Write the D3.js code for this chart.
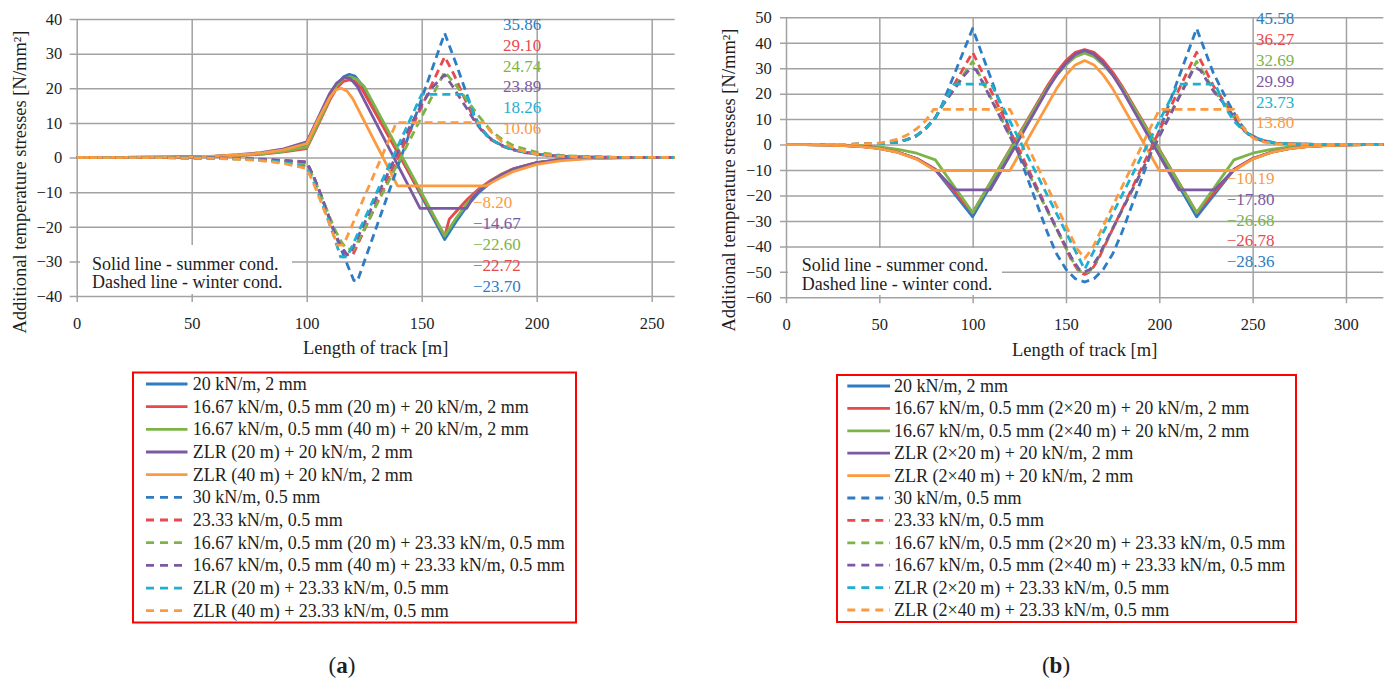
<!DOCTYPE html>
<html><head><meta charset="utf-8">
<script src="https://cdn.jsdelivr.net/npm/d3@7"></script>
<style>body{margin:0;background:#fff}</style>
</head><body>
<svg id="c" width="1390" height="682"></svg>
<script>
// ---------------- DATA ----------------
const xTicksA = [0, 50, 100, 150, 200, 250];
const yTicksA = [-40, -30, -20, -10, 0, 10, 20, 30, 40];
const xTicksB = [0, 50, 100, 150, 200, 250, 300];
const yTicksB = [-60, -50, -40, -30, -20, -10, 0, 10, 20, 30, 40, 50];

const legendA = [
  "20 kN/m, 2 mm",
  "16.67 kN/m, 0.5 mm (20 m) + 20 kN/m, 2 mm",
  "16.67 kN/m, 0.5 mm (40 m) + 20 kN/m, 2 mm",
  "ZLR (20 m) + 20 kN/m, 2 mm",
  "ZLR (40 m) + 20 kN/m, 2 mm",
  "30 kN/m, 0.5 mm",
  "23.33 kN/m, 0.5 mm",
  "16.67 kN/m, 0.5 mm (20 m) + 23.33 kN/m, 0.5 mm",
  "16.67 kN/m, 0.5 mm (40 m) + 23.33 kN/m, 0.5 mm",
  "ZLR (20 m) + 23.33 kN/m, 0.5 mm",
  "ZLR (40 m) + 23.33 kN/m, 0.5 mm"
];
const legendB = [
  "20 kN/m, 2 mm",
  "16.67 kN/m, 0.5 mm (2×20 m) + 20 kN/m, 2 mm",
  "16.67 kN/m, 0.5 mm (2×40 m) + 20 kN/m, 2 mm",
  "ZLR (2×20 m) + 20 kN/m, 2 mm",
  "ZLR (2×40 m) + 20 kN/m, 2 mm",
  "30 kN/m, 0.5 mm",
  "23.33 kN/m, 0.5 mm",
  "16.67 kN/m, 0.5 mm (2×20 m) + 23.33 kN/m, 0.5 mm",
  "16.67 kN/m, 0.5 mm (2×40 m) + 23.33 kN/m, 0.5 mm",
  "ZLR (2×20 m) + 23.33 kN/m, 0.5 mm",
  "ZLR (2×40 m) + 23.33 kN/m, 0.5 mm"
];
const seriesColor = ["blue","red","green","purple","orange","blue","red","green","purple","cyan","orange"];
const seriesDashed = [false,false,false,false,false,true,true,true,true,true,true];

// ---- chart (a) series: [length m, stress N/mm2]
const a1 = [[0,0],[20,0.02],[40,0.1],[50,0.18],[60,0.35],[70,0.65],[80,1.1],[90,1.9],[100,3.3],[105,10.5],[110,17.5],[113,21],[116,23.3],[118.5,24.0],[121,23.5],[124,21],[160,-23.7],[165,-18.5],[170,-13.8],[175,-10],[180,-7.2],[185,-5.0],[190,-3.4],[200,-1.6],[210,-0.7],[220,-0.3],[230,-0.1],[245,0],[260,0]];
const a2 = [[0,0],[20,0.02],[40,0.08],[50,0.15],[60,0.3],[70,0.55],[80,0.9],[90,1.6],[100,2.6],[105,9.5],[110,16.5],[113,20],[116,22],[118.5,22.4],[121,22],[124,19.8],[160,-22.72],[162,-17.8],[165,-15.6],[170,-12],[175,-9.0],[180,-6.6],[185,-4.7],[190,-3.2],[200,-1.5],[210,-0.6],[220,-0.25],[235,-0.05],[260,0]];
const a3 = [[0,0],[20,0.02],[40,0.09],[50,0.16],[60,0.32],[70,0.6],[80,1.0],[90,1.75],[100,3.0],[105,10],[110,17],[113,20.8],[116,22.8],[119,23.3],[122,22.5],[125,20.5],[160,-22.6],[165,-17.5],[170,-13.0],[175,-9.4],[180,-6.9],[185,-4.8],[190,-3.3],[200,-1.5],[210,-0.65],[220,-0.28],[235,-0.06],[260,0]];
const a4 = [[0,0],[20,0.03],[40,0.12],[50,0.22],[60,0.42],[70,0.8],[80,1.4],[90,2.5],[100,4.5],[105,11.5],[110,18.5],[113,21.5],[116.5,23.2],[119,22.8],[122,20.5],[149.3,-14.67],[169.6,-14.67],[172,-11.8],[175,-9.6],[180,-7.0],[185,-4.9],[190,-3.3],[200,-1.5],[210,-0.65],[220,-0.28],[235,-0.06],[260,0]];
const a5 = [[0,0],[20,0.03],[40,0.11],[50,0.2],[60,0.4],[70,0.72],[80,1.25],[90,2.2],[100,4.0],[105,11],[110,17.3],[112.5,19.5],[115,20.0],[117.5,19.2],[120,17],[139.5,-8.2],[178,-8.2],[180,-7.4],[185,-5.6],[190,-4.0],[200,-2.0],[210,-1.0],[220,-0.45],[230,-0.2],[245,-0.05],[260,0]];
const a6 = [[0,0],[30,-0.02],[50,-0.08],[60,-0.15],[70,-0.3],[80,-0.55],[90,-0.95],[100,-1.4],[103,-5.5],[106,-10.5],[109,-16],[112,-21.5],[115,-26.5],[118,-31.5],[120.5,-35.5],[122,-35.8],[160,35.86],[165,27],[170,17.5],[173,12],[176,8.2],[180,5.3],[185,3.4],[190,2.2],[200,0.95],[210,0.4],[220,0.15],[235,0.03],[260,0]];
const a7 = [[0,0],[30,-0.02],[50,-0.08],[60,-0.15],[70,-0.3],[80,-0.55],[90,-0.95],[100,-1.4],[103,-5.5],[106,-10.5],[109,-16],[112,-21.5],[115,-25.8],[117.5,-28.0],[120,-28.2],[160,29.10],[164,24],[168,18],[172,12.3],[176,8.0],[180,5.2],[185,3.3],[190,2.1],[200,0.9],[210,0.38],[220,0.15],[235,0.03],[260,0]];
const a8 = [[0,0],[30,-0.03],[50,-0.1],[60,-0.2],[70,-0.4],[80,-0.75],[90,-1.3],[100,-2.3],[103,-5.8],[106,-10.5],[109,-15.5],[112,-20.5],[115,-24.3],[117.5,-26.5],[120.5,-26.5],[160,24.74],[165,20.8],[170,16.3],[175,11.8],[180,7.8],[185,5.2],[190,3.4],[200,1.5],[210,0.65],[220,0.27],[235,0.06],[260,0]];
const a9 = [[0,0],[30,-0.02],[50,-0.07],[60,-0.13],[70,-0.25],[80,-0.45],[90,-0.8],[97,-1.1],[100,-1.3],[103,-5.5],[106,-10.5],[109,-16],[112,-21.5],[115,-25.8],[117.5,-28.2],[119,-27.6],[138.5,0],[145,9.2],[150,15.3],[155,20.5],[160,23.89],[163,21],[167,16.8],[170,13.8],[173,10.5],[177,7.0],[182,4.5],[187,2.9],[195,1.4],[205,0.6],[215,0.25],[230,0.05],[260,0]];
const a10 = [[0,0],[30,-0.03],[50,-0.1],[60,-0.2],[70,-0.4],[80,-0.75],[90,-1.4],[100,-2.7],[103,-7],[106,-12],[109,-17.5],[112,-23],[114.7,-28.7],[117.6,-28.7],[150,18.26],[169.5,18.26],[172.5,12.5],[176,8],[180,5.3],[185,3.4],[190,2.2],[200,1.0],[210,0.45],[220,0.2],[235,0.05],[260,0]];
const a11 = [[0,0],[30,-0.03],[50,-0.12],[60,-0.25],[70,-0.5],[80,-0.9],[90,-1.7],[100,-3.2],[103,-7.5],[106,-12.5],[109,-17.5],[111.5,-22],[113.3,-25.3],[116,-25.3],[139,10.06],[177,10.06],[180,7.5],[185,4.5],[190,2.7],[195,1.7],[200,1.05],[210,0.42],[220,0.16],[235,0.03],[260,0]];

// ---- chart (b) series
const b1 = [[0,0],[10,-0.05],[20,-0.15],[30,-0.35],[40,-0.75],[50,-1.5],[60,-3.0],[70,-5.5],[80,-9.8],[100,-28.36],[140,22.5],[145,28],[150,32.3],[155,35.6],[160,36.8],[165,35.6],[170,32.3],[175,28],[180,22.5],[220,-28.36],[240,-9.8],[250,-5.5],[260,-3.0],[270,-1.5],[280,-0.75],[290,-0.35],[300,-0.15],[310,-0.05],[320,0]];
const b2 = [[0,0],[10,-0.05],[20,-0.15],[30,-0.35],[40,-0.75],[50,-1.5],[60,-3.0],[70,-5.5],[80,-9.7],[100,-26.78],[140,23],[145,28.5],[150,33],[155,36.2],[160,37.3],[165,36.2],[170,33],[175,28.5],[180,23],[220,-26.78],[240,-9.7],[250,-5.5],[260,-3.0],[270,-1.5],[280,-0.75],[290,-0.35],[300,-0.15],[310,-0.05],[320,0]];
const b3 = [[0,0],[10,-0.03],[20,-0.1],[30,-0.22],[40,-0.45],[50,-0.95],[60,-1.9],[70,-3.4],[80,-6.0],[100,-26.68],[140,22.3],[145,27.3],[150,31.3],[155,34.5],[160,35.9],[165,34.5],[170,31.3],[175,27.3],[180,22.3],[220,-26.68],[240,-6.0],[250,-3.4],[260,-1.9],[270,-0.95],[280,-0.45],[290,-0.22],[300,-0.1],[310,-0.03],[320,0]];
const b4 = [[0,0],[10,-0.05],[20,-0.15],[30,-0.35],[40,-0.75],[50,-1.5],[60,-3.0],[70,-5.6],[80,-10],[90.5,-17.8],[109.5,-17.8],[140,21.5],[145,27.3],[150,32],[155,35.5],[160,37.0],[165,35.5],[170,32],[175,27.3],[180,21.5],[210.5,-17.8],[229.5,-17.8],[240,-10],[250,-5.6],[260,-3.0],[270,-1.5],[280,-0.75],[290,-0.35],[300,-0.15],[310,-0.05],[320,0]];
const b5 = [[0,0],[10,-0.05],[20,-0.16],[30,-0.37],[40,-0.8],[50,-1.6],[60,-3.1],[70,-5.7],[80,-10.19],[120,-10.19],[145,22],[150,27.3],[155,31.3],[160,33.0],[165,31.3],[170,27.3],[175,22],[200,-10.19],[240,-10.19],[250,-5.7],[260,-3.1],[270,-1.6],[280,-0.8],[290,-0.37],[300,-0.16],[310,-0.05],[320,0]];
const b6 = [[0,0],[30,0.05],[40,0.15],[50,0.4],[60,1.0],[65,2.0],[70,3.5],[75,6.5],[80,10.5],[83,14.5],[100,45.58],[140,-34.5],[145,-43],[150,-49],[155,-52.7],[160,-54],[165,-52.7],[170,-49],[175,-43],[180,-34.5],[220,45.58],[229,28],[237,16.5],[243,8.5],[248,4.3],[254,1.8],[262,0.6],[270,0.25],[285,0.05],[320,0]];
const b7 = [[0,0],[30,0.05],[40,0.15],[50,0.4],[60,1.0],[65,2.0],[70,3.5],[75,6.5],[80,10.5],[83,14.5],[100,36.27],[153,-45.5],[157,-50],[160,-51],[163,-50],[167,-45.5],[220,36.27],[229,23],[237,14.5],[243,7.5],[248,4],[254,1.8],[262,0.6],[270,0.25],[285,0.05],[320,0]];
const b8 = [[0,0],[30,0.05],[40,0.15],[50,0.4],[60,1.0],[65,2.0],[70,3.5],[75,6.5],[80,10.5],[83,14.5],[100,32.69],[153,-45],[157,-49.5],[160,-50.5],[163,-49.5],[167,-45],[220,32.69],[229,21.5],[237,14],[243,7.3],[248,4],[254,1.8],[262,0.6],[270,0.25],[285,0.05],[320,0]];
const b9 = [[0,0],[30,0.05],[40,0.15],[50,0.4],[60,1.0],[65,2.0],[70,3.5],[75,6.5],[80,10.5],[83,14.5],[90,21.5],[95,26.8],[98,29.2],[100,29.99],[102,29.2],[153,-44.5],[157,-49],[160,-50],[163,-49],[167,-44.5],[218,29.2],[220,29.99],[222,29.2],[229,21],[237,14],[243,7.2],[248,3.9],[254,1.8],[262,0.6],[270,0.25],[285,0.05],[320,0]];
const b10 = [[0,0],[30,0.05],[40,0.15],[50,0.4],[60,1.0],[65,2.0],[70,3.5],[75,6.5],[80,10.5],[83,14.5],[90,23.73],[110,23.73],[160,-49],[210,23.73],[230,23.73],[235,15],[240,9.2],[245,5.5],[250,3.2],[255,1.9],[262,0.7],[270,0.25],[285,0.05],[320,0]];
const b11 = [[0,0],[30,0.05],[40,0.2],[50,0.6],[55,1.2],[60,2.2],[65,3.8],[70,6.2],[75,9.5],[79,13.8],[120,13.8],[156,-41],[160,-44.7],[164,-41],[200,13.8],[240,13.8],[243,9],[247,4.5],[251,2.2],[256,1.0],[262,0.4],[270,0.15],[285,0.03],[320,0]];

// ---- value labels at the right
const annoTopA = [35.86, 29.10, 24.74, 23.89, 18.26, 10.06];
const annoBotA = [-8.20, -14.67, -22.60, -22.72, -23.70];
const annoTopB = [45.58, 36.27, 32.69, 29.99, 23.73, 13.80];
const annoBotB = [-10.19, -17.80, -26.68, -26.78, -28.36];
const annoTopColor = ["blue","red","green","purple","cyan","orange"];
const annoBotColor = ["orange","purple","green","red","blue"];

// ---------------- STYLE ----------------
const FONT = "'Liberation Serif', 'Times New Roman', serif";
const COL = {blue:"#2e7dc3", red:"#e8494d", green:"#7db448", purple:"#7c5aa3", cyan:"#1db0cf", orange:"#fc9a3f"};
const GRID = "#a2a2a2";
const TXT = "#1e1e1e";
const fmtV = v => (v < 0 ? "\u2212" : "") + Math.abs(v).toFixed(2);
const fmtT = v => (v < 0 ? "\u2212" : "") + Math.abs(v);

const svg = d3.select("#c");
svg.append("rect").attr("width", 1390).attr("height", 682).attr("fill", "#fff");

function drawChart(cfg) {
  const x = d3.scaleLinear().domain(cfg.xDomain).range([cfg.left, cfg.right]);
  const y = d3.scaleLinear().domain(cfg.yDomain).range([cfg.bottom, cfg.top]);
  const W = cfg.right - cfg.left, H = cfg.bottom - cfg.top;
  const g = svg.append("g");

  const ya = g.append("g").attr("transform", `translate(${cfg.left},0)`)
    .call(d3.axisLeft(y).tickValues(cfg.yTicks).tickSize(-W).tickSizeOuter(0).tickPadding(cfg.yPad).tickFormat(fmtT));
  ya.select(".domain").remove();
  ya.selectAll(".tick line").attr("x1", -cfg.tickOut).attr("x2", W).attr("stroke", GRID).attr("stroke-width", 1.5);
  ya.selectAll(".tick text").attr("font-family", FONT).attr("font-size", 16.5).attr("fill", TXT);

  const xa = g.append("g").attr("transform", `translate(0,${cfg.bottom})`)
    .call(d3.axisBottom(x).tickValues(cfg.xTicks).tickSize(-H).tickSizeOuter(0).tickPadding(cfg.xPad).tickFormat(fmtT));
  xa.select(".domain").remove();
  xa.selectAll(".tick line").attr("y1", 6).attr("stroke", GRID).attr("stroke-width", 1.5);
  xa.selectAll(".tick text").attr("font-family", FONT).attr("font-size", 16.5).attr("fill", TXT);

  const line = d3.line().x(d => x(d[0])).y(d => y(d[1]));
  cfg.series.forEach((s, i) => {
    g.append("path").datum(s)
      .attr("d", line)
      .attr("fill", "none")
      .attr("stroke", COL[seriesColor[i]])
      .attr("stroke-width", 2.8)
      .attr("stroke-linejoin", "round")
      .attr("stroke-dasharray", seriesDashed[i] ? "8,5" : null);
  });

  // note box
  g.append("rect").attr("x", cfg.box[0]).attr("y", cfg.box[1]).attr("width", cfg.box[2]).attr("height", cfg.box[3]).attr("fill", "#fff");
  ["Solid line - summer cond.", "Dashed line - winter cond."].forEach((t, i) => {
    g.append("text").attr("x", cfg.noteX).attr("y", cfg.noteY + i * cfg.noteDy)
      .attr("font-family", FONT).attr("font-size", 18).attr("fill", TXT).text(t);
  });

  // value labels
  cfg.annoTop.forEach((v, i) => {
    g.append("text").attr("x", cfg.annoTopX).attr("y", cfg.annoTopY + i * cfg.annoDy)
      .attr("font-family", FONT).attr("font-size", 17).attr("fill", COL[annoTopColor[i]]).text(fmtV(v));
  });
  cfg.annoBot.forEach((v, i) => {
    g.append("text").attr("x", cfg.annoBotX).attr("y", cfg.annoBotY + i * cfg.annoDy2)
      .attr("font-family", FONT).attr("font-size", 17).attr("fill", COL[annoBotColor[i]]).text(fmtV(v));
  });

  // axis titles
  g.append("text").attr("transform", `translate(${cfg.yTitleX},${cfg.yTitleY}) rotate(-90)`)
    .attr("text-anchor", "middle").attr("font-family", FONT).attr("font-size", 18.5).attr("fill", TXT)
    .text("Additional temperature stresses [N/mm²]");
  g.append("text").attr("x", (cfg.left + cfg.right) / 2).attr("y", cfg.xTitleY)
    .attr("text-anchor", "middle").attr("font-family", FONT).attr("font-size", 18.5).attr("fill", TXT)
    .text("Length of track [m]");

  // legend
  const L = cfg.legend;
  g.append("rect").attr("x", L.x).attr("y", L.y).attr("width", L.w).attr("height", L.h)
    .attr("fill", "#fff").attr("stroke", "#ff0000").attr("stroke-width", 2);
  cfg.legendLabels.forEach((t, i) => {
    const cy = L.row0 + i * L.dy;
    g.append("line").attr("x1", L.sx1).attr("x2", L.sx2).attr("y1", cy).attr("y2", cy)
      .attr("stroke", COL[seriesColor[i]]).attr("stroke-width", 2.8)
      .attr("stroke-dasharray", seriesDashed[i] ? "8,6" : null);
    g.append("text").attr("x", L.tx).attr("y", cy + 6)
      .attr("font-family", FONT).attr("font-size", 18).attr("fill", TXT).text(t);
  });

  // caption
  const cap = g.append("text").attr("x", cfg.capX).attr("y", 673).attr("text-anchor", "middle")
    .attr("font-family", FONT).attr("font-size", 23).attr("fill", TXT);
  cap.append("tspan").text("(");
  cap.append("tspan").attr("font-weight", "bold").text(cfg.cap);
  cap.append("tspan").text(")");
}

drawChart({
  xDomain: [0, 260], yDomain: [-40, 40], xTicks: xTicksA, yTicks: yTicksA,
  left: 76.7, right: 674.7, top: 19, bottom: 296,
  yPad: 14.5, xPad: 21, tickOut: 7,
  series: [a1, a2, a3, a4, a5, a6, a7, a8, a9, a10, a11],
  box: [80, 245, 212, 49], noteX: 92, noteY: 269.5, noteDy: 18.7,
  annoTop: annoTopA, annoTopX: 503, annoTopY: 30, annoDy: 20.8,
  annoBot: annoBotA, annoBotX: 473, annoBotY: 208, annoDy2: 21,
  yTitleX: 26, yTitleY: 182, xTitleY: 354,
  legend: {x: 133, y: 372.5, w: 443, h: 250, row0: 384, dy: 22.67, sx1: 146, sx2: 187.5, tx: 192.7},
  legendLabels: legendA, capX: 342, cap: "a"
});

drawChart({
  xDomain: [0, 320], yDomain: [-60, 50], xTicks: xTicksB, yTicks: yTicksB,
  left: 786, right: 1383.3, top: 17.3, bottom: 297.3,
  yPad: 14.3, xPad: 21.3, tickOut: 6,
  series: [b1, b2, b3, b4, b5, b6, b7, b8, b9, b10, b11],
  box: [788, 248, 214, 47], noteX: 801.7, noteY: 271, noteDy: 19,
  annoTop: annoTopB, annoTopX: 1256, annoTopY: 24.3, annoDy: 20.8,
  annoBot: annoBotB, annoBotX: 1226.7, annoBotY: 184.3, annoDy2: 20.6,
  yTitleX: 735, yTitleY: 180, xTitleY: 356,
  legend: {x: 837, y: 375, w: 459, h: 247, row0: 386, dy: 22.4, sx1: 847.3, sx2: 890, tx: 894},
  legendLabels: legendB, capX: 1056, cap: "b"
});
</script></body></html>
